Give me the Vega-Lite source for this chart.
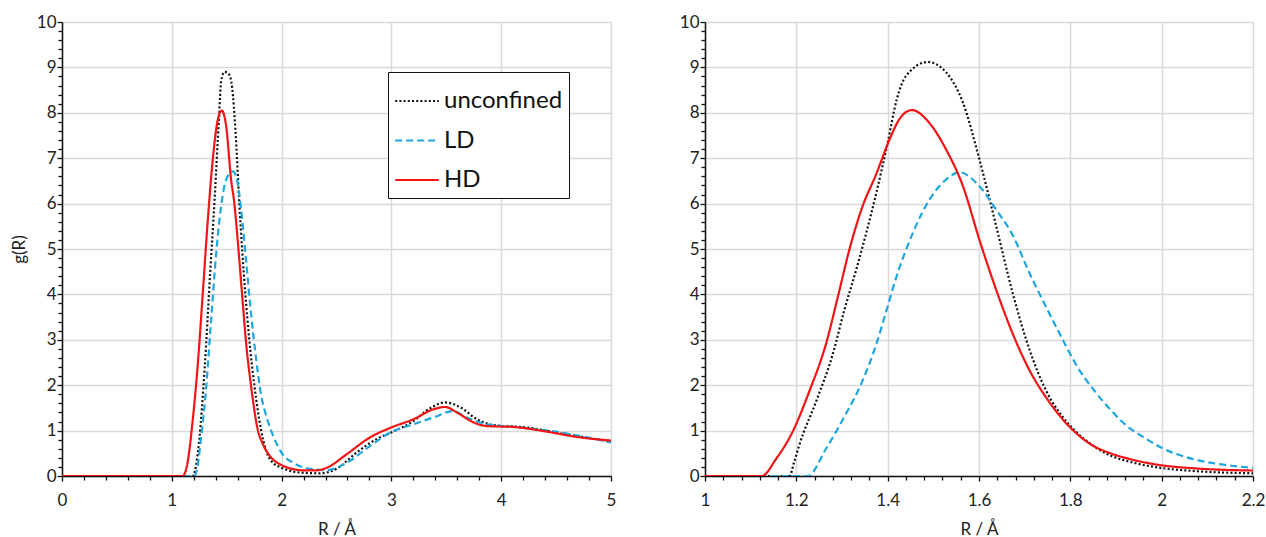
{
  "$schema": "https://vega.github.io/schema/vega-lite/v6.json",
  "padding": {"left": 10, "top": 13, "right": 8, "bottom": 0},
  "config": {
    "font": "Lato",
    "view": {"stroke": null},
    "axis": {
      "labelFont": "Lato", "labelFontSize": 17, "labelColor": "#222",
      "titleFont": "Lato", "titleFontSize": 17, "titleFontWeight": "normal", "titleColor": "#222",
      "domainColor": "#111", "domainWidth": 1.5,
      "tickColor": "#111", "tickWidth": 1.3,
      "gridColor": "#d9d9d9", "gridWidth": 1.5,
      "labelOverlap": false, "labelFlush": false, "tickCount": 100
    }
  },
  "datasets": {
    "a": [
      {"R": 0, "series": "unconfined", "g": 0},
      {"R": 1.19, "series": "unconfined", "g": 0},
      {"R": 1.21, "series": "unconfined", "g": 0.1},
      {"R": 1.25, "series": "unconfined", "g": 0.8},
      {"R": 1.3, "series": "unconfined", "g": 2.4},
      {"R": 1.35, "series": "unconfined", "g": 4.5},
      {"R": 1.39, "series": "unconfined", "g": 6.1},
      {"R": 1.43, "series": "unconfined", "g": 7.9},
      {"R": 1.45, "series": "unconfined", "g": 8.7},
      {"R": 1.48, "series": "unconfined", "g": 8.9},
      {"R": 1.52, "series": "unconfined", "g": 8.85},
      {"R": 1.55, "series": "unconfined", "g": 8.55},
      {"R": 1.58, "series": "unconfined", "g": 7.6},
      {"R": 1.615, "series": "unconfined", "g": 6.0},
      {"R": 1.67, "series": "unconfined", "g": 4.0},
      {"R": 1.706, "series": "unconfined", "g": 3.0},
      {"R": 1.752, "series": "unconfined", "g": 2.0},
      {"R": 1.812, "series": "unconfined", "g": 1.03},
      {"R": 1.86, "series": "unconfined", "g": 0.55},
      {"R": 1.9, "series": "unconfined", "g": 0.35},
      {"R": 2.0, "series": "unconfined", "g": 0.18},
      {"R": 2.2, "series": "unconfined", "g": 0.07},
      {"R": 2.35, "series": "unconfined", "g": 0.06},
      {"R": 2.5, "series": "unconfined", "g": 0.16},
      {"R": 2.68, "series": "unconfined", "g": 0.51},
      {"R": 2.87, "series": "unconfined", "g": 0.82},
      {"R": 3.0, "series": "unconfined", "g": 0.96},
      {"R": 3.2, "series": "unconfined", "g": 1.21},
      {"R": 3.35, "series": "unconfined", "g": 1.49},
      {"R": 3.49, "series": "unconfined", "g": 1.62},
      {"R": 3.63, "series": "unconfined", "g": 1.51},
      {"R": 3.78, "series": "unconfined", "g": 1.25},
      {"R": 3.93, "series": "unconfined", "g": 1.12},
      {"R": 4.23, "series": "unconfined", "g": 1.07},
      {"R": 4.54, "series": "unconfined", "g": 0.94},
      {"R": 5.0, "series": "unconfined", "g": 0.76},
      {"R": 0, "series": "LD", "g": 0},
      {"R": 1.2, "series": "LD", "g": 0},
      {"R": 1.225, "series": "LD", "g": 0.1},
      {"R": 1.267, "series": "LD", "g": 0.85},
      {"R": 1.313, "series": "LD", "g": 1.95},
      {"R": 1.358, "series": "LD", "g": 3.43},
      {"R": 1.404, "series": "LD", "g": 4.9},
      {"R": 1.449, "series": "LD", "g": 5.94},
      {"R": 1.495, "series": "LD", "g": 6.53},
      {"R": 1.556, "series": "LD", "g": 6.71},
      {"R": 1.6, "series": "LD", "g": 6.45},
      {"R": 1.63, "series": "LD", "g": 5.9},
      {"R": 1.676, "series": "LD", "g": 4.76},
      {"R": 1.721, "series": "LD", "g": 3.6},
      {"R": 1.767, "series": "LD", "g": 2.6},
      {"R": 1.812, "series": "LD", "g": 1.8},
      {"R": 1.863, "series": "LD", "g": 1.3},
      {"R": 1.924, "series": "LD", "g": 0.88},
      {"R": 2.0, "series": "LD", "g": 0.51},
      {"R": 2.106, "series": "LD", "g": 0.29},
      {"R": 2.258, "series": "LD", "g": 0.16},
      {"R": 2.41, "series": "LD", "g": 0.13},
      {"R": 2.593, "series": "LD", "g": 0.29},
      {"R": 2.805, "series": "LD", "g": 0.66},
      {"R": 3.0, "series": "LD", "g": 0.97},
      {"R": 3.2, "series": "LD", "g": 1.14},
      {"R": 3.383, "series": "LD", "g": 1.29},
      {"R": 3.565, "series": "LD", "g": 1.43},
      {"R": 3.687, "series": "LD", "g": 1.29},
      {"R": 3.869, "series": "LD", "g": 1.14},
      {"R": 4.173, "series": "LD", "g": 1.07},
      {"R": 4.538, "series": "LD", "g": 0.96},
      {"R": 5.0, "series": "LD", "g": 0.74},
      {"R": 0, "series": "HD", "g": 0},
      {"R": 1.1, "series": "HD", "g": 0},
      {"R": 1.146, "series": "HD", "g": 0.33},
      {"R": 1.19, "series": "HD", "g": 1.22},
      {"R": 1.237, "series": "HD", "g": 2.47},
      {"R": 1.282, "series": "HD", "g": 4.02},
      {"R": 1.328, "series": "HD", "g": 5.64},
      {"R": 1.373, "series": "HD", "g": 6.97},
      {"R": 1.419, "series": "HD", "g": 7.85},
      {"R": 1.455, "series": "HD", "g": 8.05},
      {"R": 1.495, "series": "HD", "g": 7.71},
      {"R": 1.54, "series": "HD", "g": 6.53},
      {"R": 1.57, "series": "HD", "g": 6.0},
      {"R": 1.6, "series": "HD", "g": 5.2},
      {"R": 1.639, "series": "HD", "g": 4.03},
      {"R": 1.68, "series": "HD", "g": 2.85},
      {"R": 1.721, "series": "HD", "g": 2.0},
      {"R": 1.782, "series": "HD", "g": 1.03},
      {"R": 1.83, "series": "HD", "g": 0.7},
      {"R": 1.894, "series": "HD", "g": 0.44},
      {"R": 2.0, "series": "HD", "g": 0.24},
      {"R": 2.2, "series": "HD", "g": 0.125},
      {"R": 2.32, "series": "HD", "g": 0.125},
      {"R": 2.41, "series": "HD", "g": 0.18},
      {"R": 2.593, "series": "HD", "g": 0.48},
      {"R": 2.805, "series": "HD", "g": 0.85},
      {"R": 3.0, "series": "HD", "g": 1.07},
      {"R": 3.2, "series": "HD", "g": 1.25},
      {"R": 3.383, "series": "HD", "g": 1.47},
      {"R": 3.49, "series": "HD", "g": 1.52},
      {"R": 3.596, "series": "HD", "g": 1.4},
      {"R": 3.748, "series": "HD", "g": 1.18},
      {"R": 3.869, "series": "HD", "g": 1.1},
      {"R": 4.112, "series": "HD", "g": 1.08},
      {"R": 4.386, "series": "HD", "g": 0.99},
      {"R": 4.69, "series": "HD", "g": 0.86},
      {"R": 5.0, "series": "HD", "g": 0.78}
    ],
    "b": [
      {"R": 1.0, "series": "unconfined", "g": 0},
      {"R": 1.185, "series": "unconfined", "g": 0},
      {"R": 1.195, "series": "unconfined", "g": 0.3},
      {"R": 1.207, "series": "unconfined", "g": 0.7},
      {"R": 1.244, "series": "unconfined", "g": 1.66},
      {"R": 1.28, "series": "unconfined", "g": 2.69},
      {"R": 1.305, "series": "unconfined", "g": 3.65},
      {"R": 1.331, "series": "unconfined", "g": 4.54},
      {"R": 1.353, "series": "unconfined", "g": 5.35},
      {"R": 1.375, "series": "unconfined", "g": 6.23},
      {"R": 1.4, "series": "unconfined", "g": 7.34},
      {"R": 1.42, "series": "unconfined", "g": 8.3},
      {"R": 1.44, "series": "unconfined", "g": 8.81},
      {"R": 1.488, "series": "unconfined", "g": 9.12},
      {"R": 1.528, "series": "unconfined", "g": 8.89},
      {"R": 1.565, "series": "unconfined", "g": 8.22},
      {"R": 1.601, "series": "unconfined", "g": 6.97},
      {"R": 1.638, "series": "unconfined", "g": 5.49},
      {"R": 1.674, "series": "unconfined", "g": 4.02},
      {"R": 1.711, "series": "unconfined", "g": 2.77},
      {"R": 1.747, "series": "unconfined", "g": 1.88},
      {"R": 1.784, "series": "unconfined", "g": 1.29},
      {"R": 1.815, "series": "unconfined", "g": 0.95},
      {"R": 1.851, "series": "unconfined", "g": 0.66},
      {"R": 1.888, "series": "unconfined", "g": 0.45},
      {"R": 1.924, "series": "unconfined", "g": 0.33},
      {"R": 1.997, "series": "unconfined", "g": 0.18},
      {"R": 2.07, "series": "unconfined", "g": 0.11},
      {"R": 2.2, "series": "unconfined", "g": 0.06},
      {"R": 1.0, "series": "LD", "g": 0},
      {"R": 1.225, "series": "LD", "g": 0},
      {"R": 1.265, "series": "LD", "g": 0.6},
      {"R": 1.302, "series": "LD", "g": 1.25},
      {"R": 1.345, "series": "LD", "g": 2.1},
      {"R": 1.375, "series": "LD", "g": 2.9},
      {"R": 1.396, "series": "LD", "g": 3.6},
      {"R": 1.418, "series": "LD", "g": 4.35},
      {"R": 1.455, "series": "LD", "g": 5.35},
      {"R": 1.491, "series": "LD", "g": 6.08},
      {"R": 1.528, "series": "LD", "g": 6.53},
      {"R": 1.557, "series": "LD", "g": 6.69},
      {"R": 1.601, "series": "LD", "g": 6.38},
      {"R": 1.638, "series": "LD", "g": 5.86},
      {"R": 1.674, "series": "LD", "g": 5.3},
      {"R": 1.711, "series": "LD", "g": 4.46},
      {"R": 1.747, "series": "LD", "g": 3.72},
      {"R": 1.784, "series": "LD", "g": 2.99},
      {"R": 1.815, "series": "LD", "g": 2.41},
      {"R": 1.851, "series": "LD", "g": 1.9},
      {"R": 1.888, "series": "LD", "g": 1.46},
      {"R": 1.924, "series": "LD", "g": 1.1},
      {"R": 1.961, "series": "LD", "g": 0.85},
      {"R": 2.0, "series": "LD", "g": 0.62},
      {"R": 2.07, "series": "LD", "g": 0.37},
      {"R": 2.143, "series": "LD", "g": 0.24},
      {"R": 2.2, "series": "LD", "g": 0.18},
      {"R": 1.0, "series": "HD", "g": 0},
      {"R": 1.124, "series": "HD", "g": 0},
      {"R": 1.156, "series": "HD", "g": 0.38},
      {"R": 1.193, "series": "HD", "g": 1.0},
      {"R": 1.229, "series": "HD", "g": 1.88},
      {"R": 1.265, "series": "HD", "g": 2.91},
      {"R": 1.291, "series": "HD", "g": 3.95},
      {"R": 1.316, "series": "HD", "g": 4.98},
      {"R": 1.345, "series": "HD", "g": 5.94},
      {"R": 1.375, "series": "HD", "g": 6.65},
      {"R": 1.404, "series": "HD", "g": 7.41},
      {"R": 1.425, "series": "HD", "g": 7.85},
      {"R": 1.453, "series": "HD", "g": 8.06},
      {"R": 1.491, "series": "HD", "g": 7.78},
      {"R": 1.528, "series": "HD", "g": 7.19},
      {"R": 1.565, "series": "HD", "g": 6.38},
      {"R": 1.601, "series": "HD", "g": 5.2},
      {"R": 1.638, "series": "HD", "g": 4.09},
      {"R": 1.674, "series": "HD", "g": 3.13},
      {"R": 1.711, "series": "HD", "g": 2.32},
      {"R": 1.747, "series": "HD", "g": 1.73},
      {"R": 1.784, "series": "HD", "g": 1.24},
      {"R": 1.82, "series": "HD", "g": 0.88},
      {"R": 1.851, "series": "HD", "g": 0.66},
      {"R": 1.888, "series": "HD", "g": 0.5},
      {"R": 1.924, "series": "HD", "g": 0.39},
      {"R": 1.997, "series": "HD", "g": 0.24},
      {"R": 2.07, "series": "HD", "g": 0.17},
      {"R": 2.2, "series": "HD", "g": 0.12}
    ]
  },
  "hconcat": [
    {
      "width": 549,
      "height": 454,
      "layer": [
        {
          "data": {"name": "a"},
          "mark": {"type": "line", "strokeWidth": 2.2, "clip": true, "strokeCap": "butt", "interpolate": "monotone"},
          "encoding": {
            "x": {
              "field": "R", "type": "quantitative",
              "scale": {"domain": [0, 5], "nice": false, "zero": false},
              "axis": {
                "title": "R / Å",
                "titlePadding": 13,
                "tickCount": 100,
                "values": [0,0.2,0.4,0.6,0.8,1,1.2,1.4,1.6,1.8,2,2.2,2.4,2.6,2.8,3,3.2,3.4,3.6,3.8,4,4.2,4.4,4.6,4.8,5],
                "labelExpr": "abs(datum.value - round(datum.value)) < 0.001 ? format(datum.value, '~g') : ''",
                "gridOpacity": {"condition": {"test": "abs(datum.value - round(datum.value)) > 0.001", "value": 0}, "value": 1},
                "tickSize": {"condition": {"test": "abs(datum.value - round(datum.value)) > 0.001", "value": 4}, "value": 5},
                "labelPadding": 11
              }
            },
            "y": {
              "field": "g", "type": "quantitative",
              "scale": {"domain": [0, 10], "nice": false},
              "axis": {
                "title": "g(R)",
                "titlePadding": 8,
                "tickCount": 100,
                "values": [0,0.2,0.4,0.6,0.8,1,1.2,1.4,1.6,1.8,2,2.2,2.4,2.6,2.8,3,3.2,3.4,3.6,3.8,4,4.2,4.4,4.6,4.8,5,5.2,5.4,5.6,5.8,6,6.2,6.4,6.6,6.8,7,7.2,7.4,7.6,7.8,8,8.2,8.4,8.6,8.8,9,9.2,9.4,9.6,9.8,10],
                "labelExpr": "abs(datum.value - round(datum.value)) < 0.001 ? format(datum.value, '~g') : ''",
                "gridOpacity": {"condition": {"test": "abs(datum.value - round(datum.value)) > 0.001", "value": 0}, "value": 1},
                "tickSize": {"condition": {"test": "abs(datum.value - round(datum.value)) > 0.001", "value": 4}, "value": 5},
                "labelPadding": 1
              }
            },
            "color": {
              "field": "series", "type": "nominal",
              "scale": {"domain": ["unconfined", "LD", "HD"], "range": ["#111111", "#1ea6e0", "#f01414"]},
              "legend": {
                "orient": "none", "legendX": 326, "legendY": 50,
                "title": null, "symbolType": "stroke", "symbolSize": 1900, "symbolStrokeWidth": 2,
                "labelFont": "Lato", "labelFontSize": 24, "labelColor": "#111", "labelOffset": 4,
                "strokeColor": "#111", "fillColor": "white", "padding": 6, "rowPadding": 4.5
              }
            },
            "strokeDash": {
              "field": "series", "type": "nominal",
              "scale": {"domain": ["unconfined", "LD", "HD"], "range": [[2, 2.2], [7, 4], [1, 0]]},
              "legend": {
                "orient": "none", "legendX": 326, "legendY": 50,
                "title": null, "symbolType": "stroke", "symbolSize": 1900, "symbolStrokeWidth": 2,
                "labelFont": "Lato", "labelFontSize": 24, "labelColor": "#111", "labelOffset": 4,
                "strokeColor": "#111", "fillColor": "white", "padding": 6, "rowPadding": 4.5
              }
            }
          }
        },
        {
          "mark": {"type": "text", "text": "(a)", "font": "Lato", "fontSize": 31, "align": "left", "baseline": "middle", "color": "#111"},
          "encoding": {"x": {"datum": 0.15}, "y": {"datum": 9.35}}
        }
      ]
    },
    {
      "width": 548,
      "height": 454,
      "layer": [
        {
          "data": {"name": "b"},
          "mark": {"type": "line", "strokeWidth": 2.2, "clip": true, "strokeCap": "butt", "interpolate": "monotone"},
          "encoding": {
            "x": {
              "field": "R", "type": "quantitative",
              "scale": {"domain": [1, 2.2], "nice": false, "zero": false},
              "axis": {
                "title": "R / Å",
                "titlePadding": 13,
                "tickCount": 100,
                "values": [1,1.04,1.08,1.12,1.16,1.2,1.24,1.28,1.32,1.36,1.4,1.44,1.48,1.52,1.56,1.6,1.64,1.68,1.72,1.76,1.8,1.84,1.88,1.92,1.96,2,2.04,2.08,2.12,2.16,2.2],
                "labelExpr": "abs(datum.value*5 - round(datum.value*5)) < 0.01 ? format(datum.value, '~g') : ''",
                "gridOpacity": {"condition": {"test": "abs(datum.value*5 - round(datum.value*5)) > 0.01", "value": 0}, "value": 1},
                "tickSize": {"condition": {"test": "abs(datum.value*5 - round(datum.value*5)) > 0.01", "value": 4}, "value": 5},
                "labelPadding": 11
              }
            },
            "y": {
              "field": "g", "type": "quantitative",
              "scale": {"domain": [0, 10], "nice": false},
              "axis": {
                "title": null,
                "tickCount": 100,
                "values": [0,0.2,0.4,0.6,0.8,1,1.2,1.4,1.6,1.8,2,2.2,2.4,2.6,2.8,3,3.2,3.4,3.6,3.8,4,4.2,4.4,4.6,4.8,5,5.2,5.4,5.6,5.8,6,6.2,6.4,6.6,6.8,7,7.2,7.4,7.6,7.8,8,8.2,8.4,8.6,8.8,9,9.2,9.4,9.6,9.8,10],
                "labelExpr": "abs(datum.value - round(datum.value)) < 0.001 ? format(datum.value, '~g') : ''",
                "gridOpacity": {"condition": {"test": "abs(datum.value - round(datum.value)) > 0.001", "value": 0}, "value": 1},
                "tickSize": {"condition": {"test": "abs(datum.value - round(datum.value)) > 0.001", "value": 4}, "value": 5},
                "labelPadding": 1
              }
            },
            "color": {
              "field": "series", "type": "nominal",
              "scale": {"domain": ["unconfined", "LD", "HD"], "range": ["#111111", "#1ea6e0", "#f01414"]},
              "legend": null
            },
            "strokeDash": {
              "field": "series", "type": "nominal",
              "scale": {"domain": ["unconfined", "LD", "HD"], "range": [[2, 2.2], [7, 4], [1, 0]]},
              "legend": null
            }
          }
        },
        {
          "mark": {"type": "text", "text": "(b)", "font": "Lato", "fontSize": 31, "align": "left", "baseline": "middle", "color": "#111"},
          "encoding": {"x": {"datum": 1.037}, "y": {"datum": 9.35}}
        }
      ]
    }
  ],
  "spacing": 63,
  "resolve": {"legend": {"color": "independent", "strokeDash": "independent"}}
}
